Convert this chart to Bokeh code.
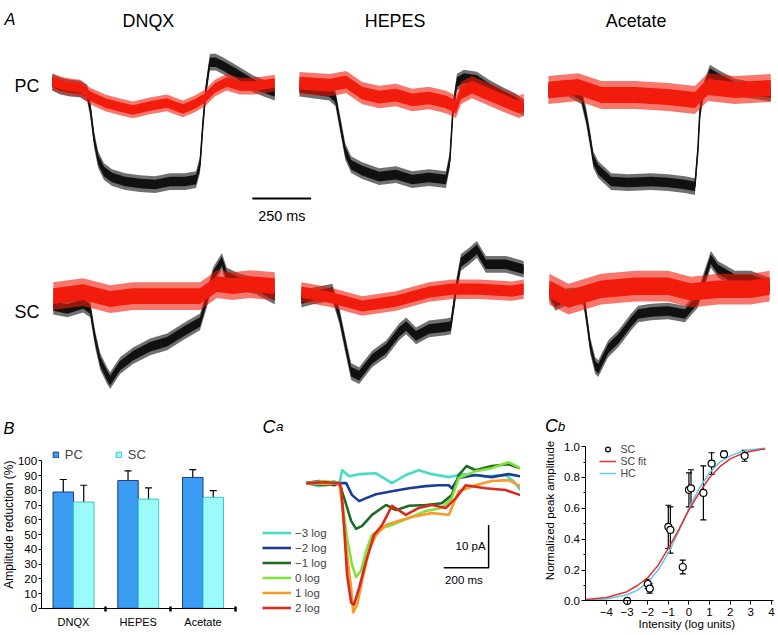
import numpy as np
from bokeh.plotting import figure
from bokeh.layouts import row, column
from bokeh.models import (Range1d, Label, Legend, LegendItem, Whisker,
                          ColumnDataSource, FixedTicker, TeeHead, NumeralTickFormatter)
from bokeh.embed import file_html
from bokeh.resources import INLINE

S = 0.996
FONT = "Liberation Sans"


def P(v):
    return v * S


def F(v):
    return f"{v * S:.1f}px"


def W(v):
    return int(round(v * S))


# ---------------------------------------------------------------- data
# Panel A: traces, time (ms) from trace start, amplitude (a.u., up = positive)
# black = control, red = with drug
conditions = ["DNQX", "HEPES", "Acetate"]
cells = ["PC", "SC"]

pc_dnqx_ctrl_t = [0, 34, 76, 119, 148, 161, 178, 195, 220, 254, 310, 373, 437, 500, 564, 611, 628, 640, 653, 670, 695, 729, 772, 814, 856, 899, 946]
pc_dnqx_ctrl_a = [1, -3, -5, -6, -10, -25, -57, -77, -89, -95, -99, -101, -102, -99, -99, -97, -82, -42, -7, 21, 21, 17, 11, 5, -1, -5, -9]
pc_dnqx_drug_t = [0, 55, 119, 161, 225, 288, 343, 415, 487, 555, 606, 649, 691, 742, 797, 861, 946]
pc_dnqx_drug_a = [1, -3, -5, -13, -20, -24, -27, -23, -20, -26, -21, -15, -5, 1, -3, -3, 0]

pc_hepes_ctrl_t = [0, 64, 127, 153, 174, 195, 220, 267, 339, 411, 479, 551, 623, 640, 653, 670, 700, 755, 806, 869, 920, 954]
pc_hepes_ctrl_a = [-5, -7, -9, -15, -42, -69, -82, -88, -94, -92, -97, -95, -97, -77, -27, 1, 5, 3, -5, -13, -19, -25]
pc_hepes_drug_t = [0, 127, 199, 267, 339, 411, 479, 551, 623, 666, 687, 734, 793, 861, 933, 954]
pc_hepes_drug_a = [0, -2, 1, -10, -14, -12, -17, -15, -19, -24, -10, -4, -10, -17, -24, -22]

pc_acet_ctrl_t = [0, 85, 140, 161, 178, 191, 212, 267, 339, 437, 509, 581, 623, 636, 644, 657, 687, 721, 793, 861, 946]
pc_acet_ctrl_a = [-7, -5, -13, -34, -57, -77, -87, -99, -100, -99, -100, -102, -104, -67, -30, -10, 10, 5, -4, -7, -10]
pc_acet_drug_t = [0, 127, 225, 369, 509, 623, 678, 793, 946]
pc_acet_drug_a = [-7, -4, -12, -12, -14, -17, -4, -7, -5]

sc_dnqx_ctrl_t = [4, 64, 131, 161, 182, 204, 233, 246, 288, 343, 416, 488, 555, 628, 657, 683, 721, 742, 797, 869, 946]
sc_dnqx_ctrl_a = [-7, -10, -5, -10, -40, -63, -77, -82, -67, -57, -48, -43, -33, -23, 0, 23, 38, 23, 17, 13, 3]
sc_dnqx_drug_t = [4, 131, 246, 343, 488, 628, 700, 767, 840, 946]
sc_dnqx_drug_a = [3, 7, 0, 3, 3, 3, 15, 13, 15, 13]

sc_hepes_ctrl_t = [8, 55, 140, 170, 199, 220, 254, 310, 369, 424, 454, 496, 551, 623, 644, 666, 687, 721, 755, 793, 878, 954]
sc_hepes_ctrl_a = [0, 3, 7, -17, -50, -73, -77, -60, -50, -33, -27, -37, -30, -28, -27, 10, 37, 43, 50, 35, 35, 30]
sc_hepes_drug_t = [8, 127, 267, 411, 551, 649, 763, 903, 954]
sc_hepes_drug_a = [7, 2, -7, -2, 7, 10, 10, 8, 10]

sc_acet_ctrl_t = [4, 30, 85, 148, 161, 178, 199, 212, 254, 297, 352, 382, 437, 509, 581, 636, 691, 721, 793, 861, 941]
sc_acet_ctrl_a = [7, -3, 3, 3, -17, -47, -67, -70, -50, -40, -23, -15, -13, -12, -15, 0, 40, 30, 20, 20, 13]
sc_acet_drug_t = [4, 85, 225, 369, 509, 606, 721, 861, 941]
sc_acet_drug_a = [10, 0, 10, 13, 13, 7, 10, 10, 13]

# noise half-amplitude of each recording (a.u.)
ctrl_noise = [[6, 6, 6], [6, 6, 6]]
drug_noise = [[6, 8, 10], [10, 7, 11]]
A_bar_ms = 250

# Panel B: amplitude reduction (%)
b_groups = ["PC", "SC"]
b_pc = [78.9, 86.7, 88.8]
b_pc_err = [8.5, 6.6, 5.3]
b_sc = [72.1, 74.1, 75.3]
b_sc_err = [11.4, 7.6, 4.6]
b_ticks = [0, 10, 20, 30, 40, 50, 60, 70, 80, 90, 100]

# Panel Ca: currents (pA) vs time (ms)
ca_labels = ["\u22123 log", "\u22122 log", "\u22121 log", "0 log", "1 log", "2 log"]
ca_m3_t = [0, 58, 124, 147, 160, 191, 236, 311, 382, 444, 502, 560, 636, 693, 800, 889, 924, 955]
ca_m3_i = [0, -0.7, 0.5, -0.2, 3.0, 1.6, 2.1, 2.3, 0, 1.9, 3.0, 2.1, 1.4, 2.1, 1.6, 1.9, 0.5, -1.6]
ca_m2_t = [0, 58, 124, 147, 178, 204, 236, 267, 311, 382, 458, 533, 591, 636, 649, 680, 755, 827, 902, 955]
ca_m2_i = [0, 0.5, -0.5, 0, 0, -2.8, -4.2, -3.5, -2.6, -1.9, -1.2, -0.7, -0.5, -0.5, -1.2, 1.2, 1.9, 1.4, 2.1, 1.6]
ca_m1_t = [0, 80, 147, 169, 200, 222, 249, 293, 356, 400, 458, 533, 604, 649, 680, 715, 755, 827, 902, 955]
ca_m1_i = [0, -0.5, 0, -3.5, -8.8, -10.7, -10.0, -7.4, -5.1, -6.3, -5.3, -5.1, -4.7, -2.8, 1.9, 4.0, 3.0, 4.0, 4.4, 3.5]
ca_0_t = [0, 80, 147, 160, 182, 204, 222, 244, 267, 293, 338, 382, 458, 533, 604, 649, 680, 755, 827, 902, 955]
ca_0_i = [0, 0.5, 0, -4.2, -12.8, -19.1, -21.9, -20.5, -15.8, -12.1, -10.5, -9.8, -8.1, -6.5, -5.8, -3.5, 1.2, 2.8, 3.5, 4.9, 3.5]
ca_p1_t = [0, 80, 147, 160, 178, 200, 209, 227, 249, 280, 311, 356, 413, 489, 560, 636, 680, 755, 827, 902, 955]
ca_p1_i = [0, -0.2, 0, -5.1, -15.1, -24.4, -30.2, -28.4, -22.8, -15.8, -12.1, -9.8, -8.8, -7.7, -7.0, -7.4, -1.9, -0.5, 0.5, 0.7, -0.7]
ca_p2_t = [0, 80, 147, 156, 169, 182, 200, 213, 236, 267, 302, 338, 382, 444, 502, 560, 622, 667, 711, 800, 889, 955]
ca_p2_i = [0, 0.2, 0, -1.2, -10.5, -21.4, -27.9, -28.4, -24.4, -18.1, -12.1, -9.8, -5.3, -7.4, -5.8, -5.1, -5.8, -3.5, -0.5, -1.2, -1.6, -2.8]
ca_colors = ["#45dcc8", "#1b3c96", "#1f6b24", "#80e23c", "#f99a2c", "#d92a1c"]
ca_bar_ms = 200
ca_bar_pA = 10

# Panel Cb: normalized peak amplitude vs intensity (log units)
cb_x = [-3.0, -2.0, -1.9, -1.0, -0.9, -0.3, 0.0, 0.1, 0.7, 1.1, 1.7, 2.7]
cb_y = [0.0, 0.11, 0.08, 0.48, 0.46, 0.22, 0.72, 0.73, 0.70, 0.89, 0.95, 0.94]
cb_err = [0.0, 0.03, 0.03, 0.14, 0.15, 0.045, 0.11, 0.12, 0.175, 0.07, 0.02, 0.035]
fit_x = [-5.0, -4.0, -3.0, -2.5, -2.0, -1.5, -1.0, -0.5, 0.0, 0.5, 1.0, 1.5, 2.0, 2.5, 3.0, 3.7]
sc_fit_y = [0.01, 0.022, 0.06, 0.10, 0.15, 0.23, 0.34, 0.46, 0.59, 0.70, 0.80, 0.87, 0.92, 0.95, 0.97, 0.985]
hc_y = [0.005, 0.013, 0.04, 0.07, 0.12, 0.20, 0.31, 0.45, 0.60, 0.73, 0.83, 0.90, 0.94, 0.965, 0.98, 0.99]
cb_xticks = [-4, -3, -2, -1, 0, 1, 2, 3, 4]
cb_yticks = [0.0, 0.2, 0.4, 0.6, 0.8, 1.0]
cb_xlim = (-5.04, 4.1)

# ---------------------------------------------------------------- helpers
BLACK = "#111111"
RED = "#f21c0c"


def add_text(p, x, y, text, size, align="left", baseline="alphabetic", style="normal",
             angle=0, xu="screen", yu="screen", color="black"):
    p.add_layout(Label(x=x, y=y, x_units=xu, y_units=yu, text=text, text_font=FONT,
                       text_font_size=F(size), text_align=align, text_baseline=baseline,
                       text_font_style=style, angle=angle, text_color=color))


def blank_fig(wref, href, xr, yr, axes=False):
    kw = {} if axes else dict(x_axis_location=None, y_axis_location=None)
    p = figure(width=W(wref), height=W(href), x_range=Range1d(*xr), y_range=Range1d(*yr),
               toolbar_location=None, output_backend="svg", min_border=0,
               outline_line_color=None, **kw)
    p.grid.visible = False
    return p


def draw_trace(p, t, a, noise, color):
    # noisy recording: fainter outer envelope, dense core, centre line
    t = np.asarray(t, float)
    a = np.asarray(a, float)
    p.varea(x=t, y1=a - 1.4 * noise, y2=a + 1.4 * noise, fill_color=color, fill_alpha=0.6)
    p.varea(x=t, y1=a - 0.8 * noise, y2=a + 0.8 * noise, fill_color=color)
    p.line(t, a, line_color=color, line_width=P(1.6))


def style_axis(ax, size):
    ax.major_label_text_font = FONT
    ax.major_label_text_font_size = F(size)
    ax.major_label_text_color = "black"
    ax.axis_line_color = "black"
    ax.major_tick_line_color = "black"
    ax.minor_tick_line_color = "black"


# ---------------------------------------------------------------- panel A
K = 250 / 59.0                     # ms per reference pixel
cols = [(0, 288, 52), (288, 537, 300), (537, 778, 550)]   # left, right, trace start
title_x = [148.5, 396, 638]
rows_def = [(0, 197, 83), (226, 400, 300)]                 # top, bottom, baseline

traces = {
    ("PC", 0): (pc_dnqx_ctrl_t, pc_dnqx_ctrl_a, pc_dnqx_drug_t, pc_dnqx_drug_a),
    ("PC", 1): (pc_hepes_ctrl_t, pc_hepes_ctrl_a, pc_hepes_drug_t, pc_hepes_drug_a),
    ("PC", 2): (pc_acet_ctrl_t, pc_acet_ctrl_a, pc_acet_drug_t, pc_acet_drug_a),
    ("SC", 0): (sc_dnqx_ctrl_t, sc_dnqx_ctrl_a, sc_dnqx_drug_t, sc_dnqx_drug_a),
    ("SC", 1): (sc_hepes_ctrl_t, sc_hepes_ctrl_a, sc_hepes_drug_t, sc_hepes_drug_a),
    ("SC", 2): (sc_acet_ctrl_t, sc_acet_ctrl_a, sc_acet_drug_t, sc_acet_drug_a),
}

A_rows = []
for ri, cell in enumerate(cells):
    top, bot, base = rows_def[ri]
    figs = []
    for ci, (left, right, x0) in enumerate(cols):
        p = blank_fig(right - left, bot - top, ((left - x0) * K, (right - x0) * K),
                      (base - bot, base - top))
        ct, ca, dt, da = traces[(cell, ci)]
        draw_trace(p, ct, ca, ctrl_noise[ri][ci], BLACK)
        draw_trace(p, dt, da, drug_noise[ri][ci], RED)
        if ri == 0:
            add_text(p, P(title_x[ci] - left), P(197 - 20.7), conditions[ci], 18, align="center")
        if ci == 0:
            ybl = 86 if ri == 0 else 313.3
            add_text(p, P(14), P(bot - ybl), cell, 18)
            if ri == 0:
                add_text(p, P(4), P(197 - 18.3), "A", 16.5, style="italic")
        figs.append(p)
    A_rows.append(figs)

# scale bar strip between the two rows of panel A
strip = blank_fig(778, 29, ((0 - 52) * K, (778 - 52) * K), (0, 29))
A_bar_start = 851
strip.line([A_bar_start, A_bar_start + A_bar_ms], [27, 27], line_color="black", line_width=P(1.8))
add_text(strip, A_bar_start + A_bar_ms / 2, P(29 - 19), f"{A_bar_ms} ms", 14.5,
         align="center", xu="data")

# ---------------------------------------------------------------- panel B
ROW3_TOP, ROW3_BOT = 400, 635
B_x0, B_x3 = 40.8, 235.8          # ref px of x = 0 and x = 3
B_y0, B_y100 = 610.7, 462.7       # ref px of y = 0 and y = 100
bx = (B_x3 - B_x0) / 3
by = (B_y0 - B_y100) / 100
pB = blank_fig(255, ROW3_BOT - ROW3_TOP, ((0 - B_x0) / bx, (255 - B_x0) / bx),
               (-(ROW3_BOT - B_y0) / by, (B_y0 - ROW3_TOP) / by), axes=True)
xc = np.arange(len(conditions)) + 0.5
bw = 0.316
PC_FILL, PC_LINE = "#3a9cf2", "#1d3b8c"
SC_FILL, SC_LINE = "#9bfbfb", "#3fc4c4"
r_pc = pB.vbar(x=xc - bw / 2, top=b_pc, width=bw, fill_color=PC_FILL, line_color=PC_LINE, line_width=1)
r_sc = pB.vbar(x=xc + bw / 2, top=b_sc, width=bw, fill_color=SC_FILL, line_color=SC_LINE, line_width=1)
for xs, vals, errs in ((xc - bw / 2, b_pc, b_pc_err), (xc + bw / 2, b_sc, b_sc_err)):
    src = ColumnDataSource(dict(x=xs, u=np.array(vals) + np.array(errs), l=np.array(vals) - np.array(errs)))
    pB.add_layout(Whisker(base="x", upper="u", lower="l", source=src, line_width=1.2, line_color="black",
                          upper_head=TeeHead(size=W(7), line_width=1.2, line_color="black"),
                          lower_head=TeeHead(size=W(7), line_width=1.2, line_color="black")))
pB.xaxis.fixed_location = 0
pB.yaxis.fixed_location = 0
pB.xaxis.bounds = (0, 3)
pB.yaxis.bounds = (0, 100)
pB.xaxis.ticker = FixedTicker(ticks=list(xc), minor_ticks=[1, 2, 3])
pB.xaxis.major_label_overrides = {float(x): c for x, c in zip(xc, conditions)}
pB.xaxis.major_tick_out = 0
pB.xaxis.major_tick_in = 0
pB.xaxis.minor_tick_in = W(2)
pB.xaxis.minor_tick_out = W(3)
pB.xaxis.minor_tick_line_width = 2.5
pB.xaxis.major_label_standoff = W(5)
pB.yaxis.ticker = FixedTicker(ticks=b_ticks, minor_ticks=[])
pB.yaxis.major_tick_out = W(3)
pB.yaxis.major_tick_in = 0
pB.yaxis.major_label_standoff = W(1)
style_axis(pB.xaxis[0], 11)
style_axis(pB.yaxis[0], 11.5)
pB.xaxis.major_tick_line_color = None
legB = Legend(items=[LegendItem(label=b_groups[0], renderers=[r_pc]),
                     LegendItem(label=b_groups[1], renderers=[r_sc])],
              orientation="horizontal", location=(P(52), P(ROW3_BOT - 464)), padding=0, margin=0,
              spacing=W(30), glyph_width=W(7), glyph_height=W(7), label_standoff=W(6),
              label_height=W(14), label_text_font=FONT, label_text_font_size=F(13),
              border_line_color=None, background_fill_alpha=0)
pB.add_layout(legB)
add_text(pB, P(8.3), P(ROW3_BOT - 526.7), "Amplitude reduction (%)", 12, align="center",
         baseline="middle", angle=np.pi / 2)
add_text(pB, P(3), P(ROW3_BOT - 430), "B", 16.5, style="italic")

# ---------------------------------------------------------------- panel Ca
Kc = 200 / 45.0     # ms per ref px
Pc = 43 / 10.0      # ref px per pA
Ca_left, Ca_right, Ca_x0, Ca_base = 255, 522, 307, 485
pCa = blank_fig(Ca_right - Ca_left, ROW3_BOT - ROW3_TOP,
                ((Ca_left - Ca_x0) * Kc, (Ca_right - Ca_x0) * Kc),
                ((Ca_base - ROW3_BOT) / Pc, (Ca_base - ROW3_TOP) / Pc))
ca_series = [(ca_m3_t, ca_m3_i), (ca_m2_t, ca_m2_i), (ca_m1_t, ca_m1_i),
             (ca_0_t, ca_0_i), (ca_p1_t, ca_p1_i), (ca_p2_t, ca_p2_i)]
ca_items = []
for (t, i), col, lab in zip(ca_series, ca_colors, ca_labels):
    r = pCa.line(t, i, line_color=col, line_width=P(2.6), line_join="round")
    ca_items.append(LegendItem(label=lab, renderers=[r]))
legCa = Legend(items=ca_items, location=(P(263 - Ca_left), P(16.8)), padding=0, margin=0, spacing=0,
               glyph_width=W(29), glyph_height=W(15), label_height=W(15), label_standoff=W(4),
               label_text_font=FONT, label_text_font_size=F(11.5),
               border_line_color=None, background_fill_alpha=0)
pCa.add_layout(legCa)
bar_t = (490 - Ca_x0) * Kc
bar_i = (Ca_base - 570) / Pc
pCa.line([bar_t - ca_bar_ms, bar_t, bar_t], [bar_i, bar_i, bar_i + ca_bar_pA],
         line_color="black", line_width=P(1.5))
add_text(pCa, bar_t - 3 * Kc, bar_i + ca_bar_pA / 2, f"{ca_bar_pA} pA", 11.5, align="right",
         baseline="middle", xu="data", yu="data")
add_text(pCa, bar_t - ca_bar_ms / 2 - 10, bar_i - 2.8, f"{ca_bar_ms} ms", 11.5, align="center",
         baseline="middle", xu="data", yu="data")
add_text(pCa, P(263 - Ca_left), P(ROW3_BOT - 429), "C", 18, style="italic")
add_text(pCa, P(276.5 - Ca_left), P(ROW3_BOT - 428.5), "a", 13.5, style="italic")

# ---------------------------------------------------------------- panel Cb
Cb_left, Cb_right = 522, 778
cb_pxx, cb_xm4 = 20.7, 608.3      # ref px per log unit, ref px of x = -4
cb_pxy, cb_y0 = 155.0, 603.3      # ref px per unit, ref px of y = 0
pCb = blank_fig(Cb_right - Cb_left, ROW3_BOT - ROW3_TOP,
                (-4 - (cb_xm4 - Cb_left) / cb_pxx, -4 + (Cb_right - cb_xm4) / cb_pxx),
                (-(ROW3_BOT - cb_y0) / cb_pxy, (cb_y0 - ROW3_TOP) / cb_pxy), axes=True)
r_hc = pCb.line(fit_x, hc_y, line_color="#62c6ea", line_width=P(1.5))
r_fit = pCb.line(fit_x, sc_fit_y, line_color="#e2302c", line_width=P(1.5))
ex = [x for x, e in zip(cb_x, cb_err) if e > 0]
ey = [y for y, e in zip(cb_y, cb_err) if e > 0]
ee = [e for e in cb_err if e > 0]
esrc = ColumnDataSource(dict(x=ex, u=np.array(ey) + np.array(ee), l=np.array(ey) - np.array(ee)))
pCb.add_layout(Whisker(base="x", upper="u", lower="l", source=esrc, line_width=1.2, line_color="black",
                       upper_head=TeeHead(size=W(6), line_width=1.2, line_color="black"),
                       lower_head=TeeHead(size=W(6), line_width=1.2, line_color="black")))
r_pts = pCb.scatter(cb_x, cb_y, marker="circle", size=P(7), fill_color="white",
                    line_color="black", line_width=1.2)
pCb.xaxis.fixed_location = 0
pCb.yaxis.fixed_location = cb_xlim[0]
pCb.xaxis.bounds = cb_xlim
pCb.yaxis.bounds = (0, 1)
pCb.xaxis.ticker = FixedTicker(ticks=cb_xticks, minor_ticks=[])
pCb.xaxis.major_label_overrides = {v: (f"\u2212{abs(v)}" if v < 0 else str(v)) for v in cb_xticks}
pCb.yaxis.ticker = FixedTicker(ticks=cb_yticks, minor_ticks=[0.1, 0.3, 0.5, 0.7, 0.9])
pCb.yaxis.formatter = NumeralTickFormatter(format="0.0")
for ax in (pCb.xaxis[0], pCb.yaxis[0]):
    style_axis(ax, 11.5)
    ax.major_tick_out = W(4)
    ax.major_tick_in = 0
    ax.minor_tick_out = W(2)
    ax.minor_tick_in = 0
pCb.xaxis.major_label_standoff = W(3)
pCb.yaxis.major_label_standoff = W(1)
legCb = Legend(items=[LegendItem(label="SC", renderers=[r_pts]),
                      LegendItem(label="SC fit", renderers=[r_fit]),
                      LegendItem(label="HC", renderers=[r_hc])],
               location=(P(601.7 - Cb_left), P(153.3)), padding=0, margin=0, spacing=0,
               glyph_width=W(17), glyph_height=W(12), label_height=W(12), label_standoff=W(4),
               label_text_font=FONT, label_text_font_size=F(10.5),
               border_line_color=None, background_fill_alpha=0)
pCb.add_layout(legCb)
add_text(pCb, P(551.7 - Cb_left), P(ROW3_BOT - 512.5), "Normalized peak amplitude", 11.5,
         align="center", baseline="middle", angle=np.pi / 2)
add_text(pCb, P(689 - Cb_left), P(ROW3_BOT - 626.5), "Intensity (log units)", 11.5,
         align="center", baseline="alphabetic")
add_text(pCb, P(546.7 - Cb_left), P(ROW3_BOT - 428), "C", 18, style="italic")
add_text(pCb, P(559.3 - Cb_left), P(ROW3_BOT - 428), "b", 13.5, style="italic")

# ---------------------------------------------------------------- layout
layout = column(row(*A_rows[0]), strip, row(*A_rows[1]), row(pB, pCa, pCb))
open("out.html", "w").write(file_html(layout, INLINE, title="Figure"))
